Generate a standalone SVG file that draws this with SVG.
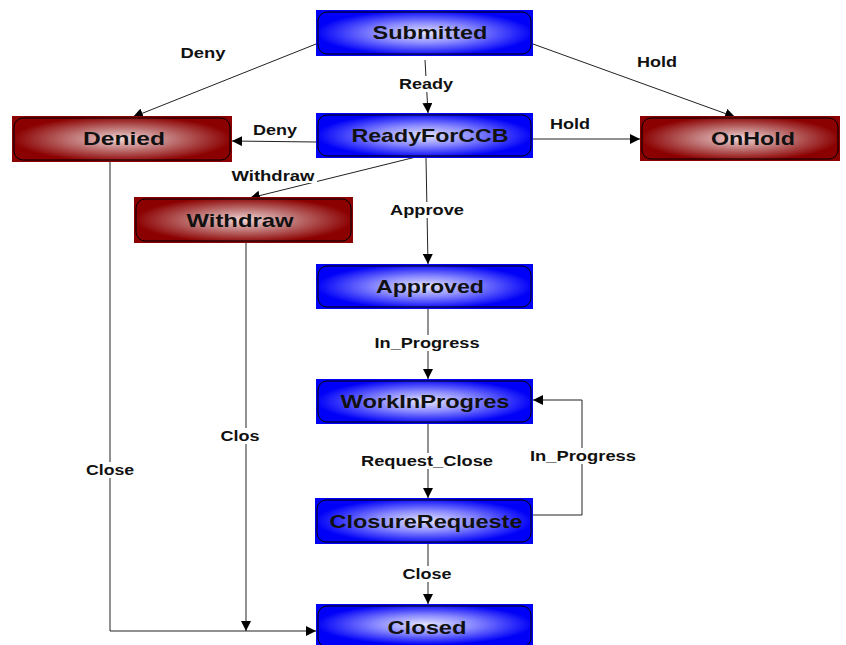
<svg xmlns="http://www.w3.org/2000/svg" width="846" height="645" viewBox="0 0 846 645">
<defs>
<radialGradient id="gb" cx="50%" cy="50%" r="50%">
<stop offset="0" stop-color="#e4e4ff"/>
<stop offset="0.45" stop-color="#8a8aff"/>
<stop offset="1" stop-color="#0000f8"/>
</radialGradient>
<radialGradient id="gr" cx="50%" cy="50%" r="50%">
<stop offset="0" stop-color="#f2d4d4"/>
<stop offset="0.45" stop-color="#c07878"/>
<stop offset="1" stop-color="#8b0000"/>
</radialGradient>
<marker id="ar" viewBox="0 0 10 10" refX="10" refY="5" markerWidth="10" markerHeight="10" markerUnits="userSpaceOnUse" orient="auto">
<path d="M0,0 L10,5 L0,10 z" fill="#000"/>
</marker>
</defs>
<style>
.bg{fill:#fff}
.b{fill:url(#gb)}
.r{fill:url(#gr)}
.in{fill:none;stroke:#000;stroke-width:1}
.nt{font-family:"Liberation Sans",Arial,sans-serif;font-weight:bold;font-size:19px;fill:#111;text-anchor:middle}
.e{fill:none;stroke:#222;stroke-width:1;marker-end:url(#ar)}
.el{font-family:"Liberation Sans",Arial,sans-serif;font-weight:bold;font-size:14px;fill:#111;text-anchor:middle}
.lb{fill:#fff}
</style>
<rect class="bg" x="0" y="0" width="846" height="645"/>
<g id="edges">
<path class="e" d="M316,44 L133,117"/>
<path class="e" d="M425,60 L428,113"/>
<path class="e" d="M533,44 L735,117"/>
<path class="e" d="M316,142 L232,141"/>
<path class="e" d="M533,139 L640,139"/>
<path class="e" d="M420,156 L250,198"/>
<path class="e" d="M426,158 L428,264"/>
<path class="e" d="M428,309 L428,379"/>
<path class="e" d="M428,424 L428,498"/>
<path class="e" d="M533,515 L582,515 L582,400 L533,400"/>
<path class="e" d="M428,544 L428,604"/>
<path class="e" d="M110,162 L110,631 L316,631"/>
<path class="e" d="M246,243 L246,631"/>
<rect class="lb" x="179" y="45" width="49" height="16"/>
<text class="el" x="203" y="58" textLength="45" lengthAdjust="spacingAndGlyphs">Deny</text>
<rect class="lb" x="397" y="76" width="58" height="16"/>
<text class="el" x="426" y="89" textLength="54" lengthAdjust="spacingAndGlyphs">Ready</text>
<rect class="lb" x="635" y="54" width="44" height="16"/>
<text class="el" x="657" y="67" textLength="40" lengthAdjust="spacingAndGlyphs">Hold</text>
<rect class="lb" x="251" y="122" width="48" height="16"/>
<text class="el" x="275" y="135" textLength="44" lengthAdjust="spacingAndGlyphs">Deny</text>
<rect class="lb" x="548" y="116" width="44" height="16"/>
<text class="el" x="570" y="129" textLength="40" lengthAdjust="spacingAndGlyphs">Hold</text>
<rect class="lb" x="230" y="168" width="87" height="15"/>
<text class="el" x="273" y="181" textLength="83" lengthAdjust="spacingAndGlyphs">Withdraw</text>
<rect class="lb" x="388" y="202" width="78" height="16"/>
<text class="el" x="427" y="215" textLength="74" lengthAdjust="spacingAndGlyphs">Approve</text>
<rect class="lb" x="372" y="335" width="110" height="16"/>
<text class="el" x="427" y="348" textLength="105" lengthAdjust="spacingAndGlyphs">In_Progress</text>
<rect class="lb" x="359" y="453" width="136" height="16"/>
<text class="el" x="427" y="466" textLength="132" lengthAdjust="spacingAndGlyphs">Request_Close</text>
<rect class="lb" x="528" y="448" width="110" height="16"/>
<text class="el" x="583" y="461" textLength="106" lengthAdjust="spacingAndGlyphs">In_Progress</text>
<rect class="lb" x="401" y="566" width="53" height="16"/>
<text class="el" x="427" y="579" textLength="49" lengthAdjust="spacingAndGlyphs">Close</text>
<rect class="lb" x="84" y="462" width="52" height="16"/>
<text class="el" x="110" y="475" textLength="48" lengthAdjust="spacingAndGlyphs">Close</text>
<rect class="lb" x="219" y="428" width="43" height="16"/>
<text class="el" x="240" y="441" textLength="39" lengthAdjust="spacingAndGlyphs">Clos</text>
</g>
<g id="Submitted">
<rect class="b" x="316" y="10" width="217" height="46"/>
<rect class="in" x="318" y="12" width="213" height="42" rx="9"/>
<text class="nt" x="430" y="39" textLength="115" lengthAdjust="spacingAndGlyphs">Submitted</text>
</g>
<g id="ReadyForCCB">
<rect class="b" x="316" y="113" width="217" height="45"/>
<rect class="in" x="318" y="115" width="213" height="41" rx="9"/>
<text class="nt" x="430" y="142" textLength="157" lengthAdjust="spacingAndGlyphs">ReadyForCCB</text>
</g>
<g id="Denied">
<rect class="r" x="12" y="116" width="220" height="46"/>
<rect class="in" x="14" y="118" width="216" height="42" rx="9"/>
<text class="nt" x="124" y="145" textLength="82" lengthAdjust="spacingAndGlyphs">Denied</text>
</g>
<g id="OnHold">
<rect class="r" x="640" y="116" width="200" height="45"/>
<rect class="in" x="642" y="118" width="196" height="41" rx="9"/>
<text class="nt" x="753" y="145" textLength="84" lengthAdjust="spacingAndGlyphs">OnHold</text>
</g>
<g id="Withdraw">
<rect class="r" x="134" y="197" width="219" height="46"/>
<rect class="in" x="136" y="199" width="215" height="42" rx="9"/>
<text class="nt" x="240" y="227" textLength="107" lengthAdjust="spacingAndGlyphs">Withdraw</text>
</g>
<g id="Approved">
<rect class="b" x="316" y="264" width="217" height="45"/>
<rect class="in" x="318" y="266" width="213" height="41" rx="9"/>
<text class="nt" x="430" y="293" textLength="108" lengthAdjust="spacingAndGlyphs">Approved</text>
</g>
<g id="WorkInProgres">
<rect class="b" x="316" y="379" width="217" height="45"/>
<rect class="in" x="318" y="381" width="213" height="41" rx="9"/>
<text class="nt" x="425" y="408" textLength="169" lengthAdjust="spacingAndGlyphs">WorkInProgres</text>
</g>
<g id="ClosureRequeste">
<rect class="b" x="315" y="498" width="218" height="46"/>
<rect class="in" x="317" y="500" width="214" height="42" rx="9"/>
<text class="nt" x="426" y="528" textLength="193" lengthAdjust="spacingAndGlyphs">ClosureRequeste</text>
</g>
<g id="Closed">
<rect class="b" x="316" y="604" width="217" height="41"/>
<rect class="in" x="318" y="606" width="213" height="41" rx="9"/>
<text class="nt" x="427" y="634" textLength="79" lengthAdjust="spacingAndGlyphs">Closed</text>
</g>
</svg>
